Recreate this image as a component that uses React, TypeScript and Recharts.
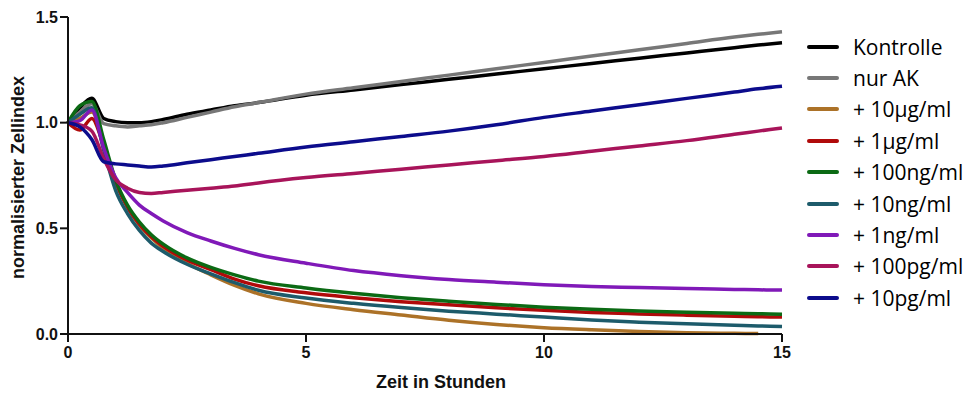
import { LineChart, Line, XAxis, YAxis } from 'recharts';

// Zeitpunkte in Stunden
const hours = [0, 0.25, 0.5, 0.75, 1, 1.25, 1.5, 1.75, 2, 2.5, 3, 3.5, 4, 5, 6, 7, 8, 9, 10, 11, 12, 13, 14, 14.5, 15];

const kontrolle = [1.0, 1.07, 1.115, 1.02, 1.005, 1.0, 1.0, 1.005, 1.015, 1.04, 1.06, 1.08, 1.095, 1.13, 1.155, 1.18, 1.205, 1.23, 1.255, 1.28, 1.305, 1.33, 1.355, 1.367, 1.378];
const nurAK = [1.0, 1.05, 1.09, 0.995, 0.985, 0.98, 0.985, 0.99, 1.0, 1.025, 1.05, 1.075, 1.095, 1.135, 1.165, 1.195, 1.225, 1.255, 1.285, 1.315, 1.345, 1.375, 1.405, 1.418, 1.43];
const ug10 = [1.0, 1.02, 1.05, 0.9, 0.72, 0.6, 0.515, 0.455, 0.405, 0.335, 0.28, 0.23, 0.19, 0.145, 0.115, 0.09, 0.065, 0.045, 0.03, 0.02, 0.012, 0.006, 0.003, 0.002, null];
const ug1 = [1.0, 0.965, 1.02, 0.89, 0.72, 0.6, 0.52, 0.46, 0.415, 0.35, 0.305, 0.26, 0.228, 0.195, 0.172, 0.153, 0.138, 0.124, 0.112, 0.102, 0.095, 0.089, 0.084, 0.082, 0.08];
const ng100 = [1.0, 1.08, 1.1, 0.92, 0.73, 0.61, 0.53, 0.47, 0.425, 0.36, 0.315, 0.28, 0.25, 0.218, 0.193, 0.172, 0.155, 0.14, 0.127, 0.117, 0.109, 0.103, 0.098, 0.096, 0.094];
const ng10 = [1.0, 1.04, 1.07, 0.87, 0.68, 0.57, 0.49, 0.43, 0.39, 0.33, 0.285, 0.243, 0.207, 0.17, 0.145, 0.125, 0.108, 0.094, 0.08, 0.066, 0.056, 0.048, 0.041, 0.038, 0.035];
const ng1 = [1.0, 1.01, 1.06, 0.88, 0.74, 0.67, 0.61, 0.57, 0.535, 0.48, 0.44, 0.405, 0.375, 0.335, 0.3, 0.276, 0.258, 0.245, 0.233, 0.225, 0.22, 0.215, 0.211, 0.209, 0.208];
const pg100 = [1.0, 0.99, 0.96, 0.83, 0.73, 0.69, 0.67, 0.665, 0.67, 0.68, 0.69, 0.7, 0.715, 0.74, 0.76, 0.78, 0.8, 0.82, 0.84, 0.865, 0.89, 0.915, 0.945, 0.96, 0.975];
const pg10 = [1.0, 0.98, 0.92, 0.815, 0.805, 0.8, 0.795, 0.79, 0.795, 0.81, 0.825, 0.84, 0.855, 0.885, 0.91, 0.935, 0.96, 0.99, 1.025, 1.055, 1.085, 1.115, 1.145, 1.16, 1.172];

const xTicks = [0, 5, 10, 15];
const yTicks = [0, 0.5, 1.0, 1.5];

const series = [
  { key: 'kontrolle', label: 'Kontrolle', color: '#000000', values: kontrolle },
  { key: 'nurAK', label: 'nur AK', color: '#777777', values: nurAK },
  { key: 'ug10', label: '+ 10µg/ml', color: '#ac7228', values: ug10 },
  { key: 'ug1', label: '+ 1µg/ml', color: '#b00a0a', values: ug1 },
  { key: 'ng100', label: '+ 100ng/ml', color: '#0b6a14', values: ng100 },
  { key: 'ng10', label: '+ 10ng/ml', color: '#1d5b6b', values: ng10 },
  { key: 'ng1', label: '+ 1ng/ml', color: '#8019b8', values: ng1 },
  { key: 'pg100', label: '+ 100pg/ml', color: '#a8145a', values: pg100 },
  { key: 'pg10', label: '+ 10pg/ml', color: '#0c0c8c', values: pg10 },
];

const rows = hours.map((t, i) => {
  const row: any = { t };
  series.forEach((s) => { row[s.key] = s.values[i]; });
  return row;
});

const axisFont = { fontFamily: 'Liberation Sans, Arial, sans-serif', fontWeight: 'bold' as const };

const YLabel = (props: any) => {
  const { viewBox } = props;
  const cy = viewBox.y + viewBox.height / 2 + 2;
  return (
    <text x={18} y={cy} transform={`rotate(-90 18 ${cy})`} textAnchor="middle" dominantBaseline="central"
      fontSize={18} fill="#111" {...axisFont}>
      normalisierter Zellindex
    </text>
  );
};

const XLabel = (props: any) => {
  const { viewBox } = props;
  const cx = viewBox.x + viewBox.width / 2 + 16;
  return (
    <text x={cx} y={388} textAnchor="middle" fontSize={18} fill="#111" {...axisFont}>
      Zeit in Stunden
    </text>
  );
};

// Legende als eigenes HTML, damit sie den Plotbereich nicht verkleinert
const ChartLegend = () => (
  <div style={{ position: 'absolute', left: 807, top: 31, width: 170, fontFamily: '"Open Sans", sans-serif', fontSize: 21, color: '#000' }}>
    {series.map((s) => (
      <div key={s.key} style={{ display: 'flex', alignItems: 'center', height: 31.4, whiteSpace: 'nowrap' }}>
        <span style={{ display: 'inline-block', width: 32, height: 4, borderRadius: 2, background: s.color, marginRight: 14 }} />
        <span>{s.label}</span>
      </div>
    ))}
  </div>
);

export default function App() {
  return (
    <div style={{ position: 'absolute', left: 0, top: 0, width: 977, height: 394, background: '#fff' }}>
      <LineChart width={977} height={394} data={rows} margin={{ top: 17, right: 195, bottom: 30, left: 0 }}>
        <XAxis
          dataKey="t"
          type="number"
          domain={[0, 15]}
          ticks={xTicks}
          height={30}
          tickSize={8}
          tickMargin={5}
          axisLine={{ stroke: '#111', strokeWidth: 2 }}
          tickLine={{ stroke: '#111', strokeWidth: 2 }}
          tick={{ fontSize: 16, fill: '#111', ...axisFont }}
          label={<XLabel />}
        />
        <YAxis
          type="number"
          domain={[0, 1.5]}
          ticks={yTicks}
          width={68}
          tickSize={8}
          tickMargin={2}
          tickFormatter={(v: number) => v.toFixed(1)}
          axisLine={{ stroke: '#111', strokeWidth: 2 }}
          tickLine={{ stroke: '#111', strokeWidth: 2 }}
          tick={{ fontSize: 16, fill: '#111', ...axisFont }}
          label={<YLabel />}
        />
        {series.map((s) => (
          <Line
            key={s.key}
            type="monotone"
            dataKey={s.key}
            name={s.label}
            stroke={s.color}
            strokeWidth={3.5}
            dot={false}
            isAnimationActive={false}
          />
        ))}
      </LineChart>
      <ChartLegend />
    </div>
  );
}
